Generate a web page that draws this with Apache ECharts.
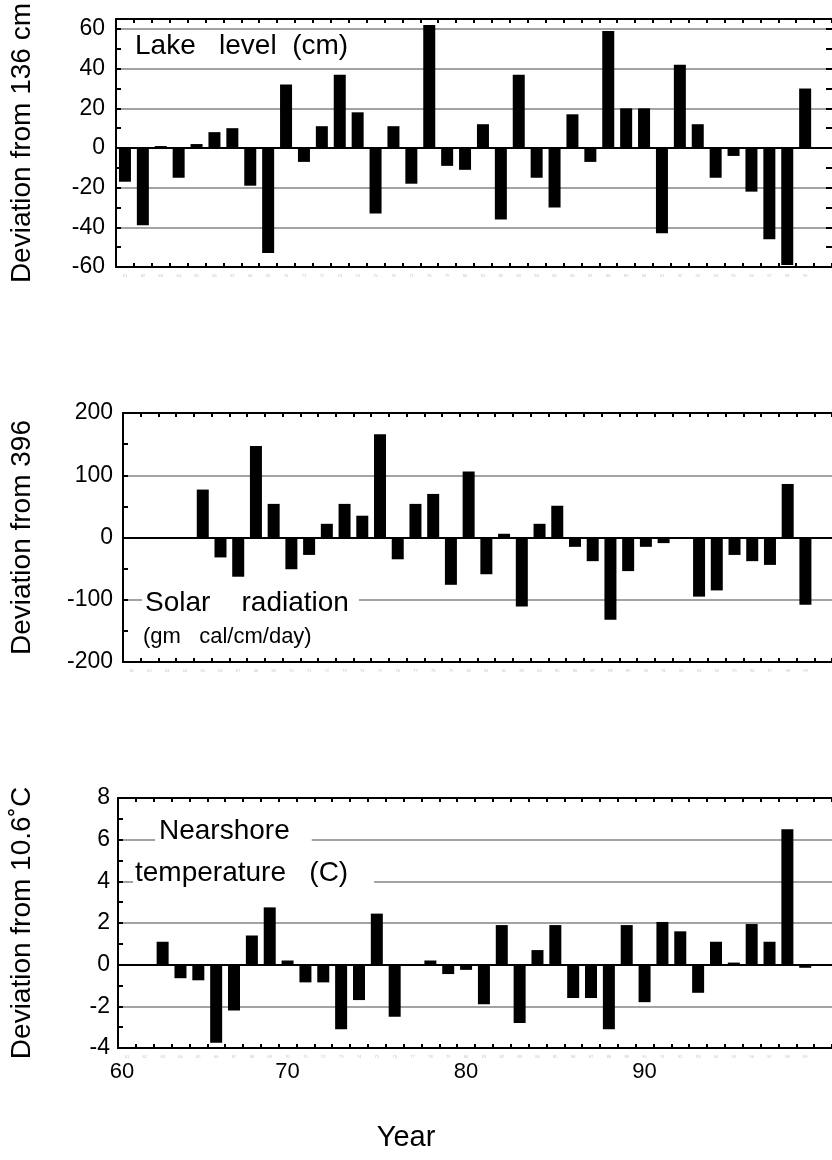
<!DOCTYPE html>
<html><head><meta charset="utf-8">
<script src="https://cdn.jsdelivr.net/npm/echarts@6/dist/echarts.min.js"></script>
<style>html,body{margin:0;padding:0;background:#fff}#c{width:832px;height:1160px}</style>
</head><body><div id="c"></div>
<script>
// Years (one slot per year)
const years = ['61','62','63','64','65','66','67','68','69','70',
               '71','72','73','74','75','76','77','78','79','80',
               '81','82','83','84','85','86','87','88','89','90',
               '91','92','93','94','95','96','97','98','99'];
// Lake level deviation from 136 cm
const lakeLevel = [-17,-39,1,-15,2,8,10,-19,-53,32,
                   -7,11,37,18,-33,11,-18,62,-9,-11,
                   12,-36,37,-15,-30,17,-7,59,20,20,
                   -43,42,12,-15,-4,-22,-46,-59,30];
// Solar radiation deviation from 396 (gm cal/cm/day)
const solarRadiation = [null,null,null,null,77,-32,-63,147,54,-51,
                        -28,22,54,35,166,-35,54,70,-76,106,
                        -59,6,-111,22,51,-15,-38,-132,-54,-15,
                        -9,null,-95,-85,-28,-38,-44,86,-108];
// Nearshore temperature deviation from 10.6 C
const nearshoreTemp = [null,null,1.1,-0.65,-0.75,-3.75,-2.2,1.4,2.75,0.2,
                       -0.85,-0.85,-3.1,-1.7,2.45,-2.5,null,0.2,-0.45,-0.25,
                       -1.9,1.9,-2.8,0.7,1.9,-1.6,-1.6,-3.1,1.9,-1.8,
                       2.05,1.6,-1.35,1.1,0.1,1.95,1.1,6.5,-0.15];
// Tick labels
const decadeLabels = ['70','80','90'];
const axisStartLabel = '60';
const lakeTicks = [-60,-40,-20,0,20,40,60];
const solarTicks = [-200,-100,0,100,200];
const tempTicks = [-4,-2,0,2,4,6,8];

const FONT = '"Liberation Sans", Arial, Helvetica, sans-serif';
const cats = years.concat(['']);

const panels = [
  {grid:{left:115,top:19,width:720,height:248}, min:-60,max:65,major:20,minor:10, ticks:lakeTicks,
   data:lakeLevel, title:'Deviation from 136 cm', nameGap:80, labelMargin:11, rightTicks:true},
  {grid:{left:120,top:413,width:720,height:249}, min:-200,max:200,major:100,minor:50, ticks:solarTicks,
   data:solarRadiation, title:'Deviation from 396', nameGap:87, labelMargin:10, rightTicks:false},
  {grid:{left:117,top:798,width:720,height:250}, min:-4,max:8,major:2,minor:1, ticks:tempTicks,
   data:nearshoreTemp, title:'Deviation from 10.6˚C', nameGap:82, labelMargin:8, rightTicks:false}
];

const grid = [], xAxis = [], yAxis = [], series = [];
panels.forEach((p, i) => {
  grid.push(Object.assign({containLabel:false}, p.grid));
  const xb = xAxis.length;
  xAxis.push({type:'category', gridIndex:i, position:'bottom', data:cats, boundaryGap:true,
    axisLine:{show:true, onZero:false, lineStyle:{color:'#000', width:2}},
    axisTick:{show:true, inside:true, length:4, interval:0, lineStyle:{color:'#000', width:2}},
    axisLabel:{show:true, interval:0, fontSize:4, color:'#c4c4c4', margin:7, fontFamily:FONT},
    splitLine:{show:false}});
  xAxis.push({type:'category', gridIndex:i, position:'top', data:cats, boundaryGap:true,
    axisLine:{show:true, onZero:false, lineStyle:{color:'#000', width:2}},
    axisTick:{show:true, inside:true, length:4, interval:0, lineStyle:{color:'#000', width:2}},
    axisLabel:{show:false}, splitLine:{show:false}});
  if (i === 2) {
    xAxis.push({type:'category', gridIndex:i, position:'bottom', data:cats, boundaryGap:true,
      axisLine:{show:false}, axisTick:{show:false}, splitLine:{show:false},
      axisLabel:{show:true, margin:13, fontSize:22, color:'#000', fontFamily:FONT,
        interval:(idx, v) => idx === 0 || decadeLabels.indexOf(v) >= 0,
        formatter:(v, idx) => idx === 0 ? '{s|' + axisStartLabel + '}' : v,
        rich:{s:{fontSize:22, color:'#000', fontFamily:FONT, padding:[0,10,0,0]}}}});
  }
  const ya = yAxis.length;
  yAxis.push({type:'value', gridIndex:i, position:'left', min:p.min, max:p.max, interval:p.major,
    axisLine:{show:true, lineStyle:{color:'#000', width:2}},
    axisTick:{show:false},
    axisLabel:{show:true, margin:p.labelMargin, fontSize:23, color:'#000', fontFamily:FONT,
      formatter:(v) => p.ticks.indexOf(v) >= 0 ? String(v) : ''},
    splitLine:{show:true, lineStyle:{color:'#858585', width:1.6}},
    name:p.title, nameLocation:'middle', nameGap:p.nameGap,
    nameTextStyle:{fontSize:28, color:'#000', fontFamily:FONT}});
  yAxis.push({type:'value', gridIndex:i, position:'left', min:p.min, max:p.max, interval:p.minor,
    axisLine:{show:false}, axisLabel:{show:false}, splitLine:{show:false},
    axisTick:{show:true, inside:true, length:5, lineStyle:{color:'#000', width:2}}});
  if (p.rightTicks) {
    yAxis.push({type:'value', gridIndex:i, position:'right', min:p.min, max:p.max, interval:p.minor,
      axisLine:{show:false}, axisLabel:{show:false}, splitLine:{show:false},
      axisTick:{show:true, inside:true, length:6, lineStyle:{color:'#000', width:2}}});
  }
  series.push({type:'bar', xAxisIndex:xb, yAxisIndex:ya, data:p.data, barWidth:12,
    itemStyle:{color:'#000'}, emphasis:{disabled:true}, silent:true,
    markLine:{silent:true, symbol:'none', label:{show:false}, emphasis:{disabled:true},
      lineStyle:{color:'#000', width:2, type:'solid'}, data:[{yAxis:0}]}});
});

const graphic = [
  {type:'text', x:135, y:46, z:100, style:{text:'Lake   level  (cm)', font:'28px ' + FONT, fill:'#000', verticalAlign:'middle'}},
  {type:'text', x:142, y:603, z:100, style:{text:'Solar    radiation', font:'28px ' + FONT, fill:'#000', verticalAlign:'middle',
    backgroundColor:'#fff', padding:[0,10,0,3]}},
  {type:'text', x:143, y:637, z:100, style:{text:'(gm   cal/cm/day)', font:'22px ' + FONT, fill:'#000', verticalAlign:'middle'}},
  {type:'text', x:155, y:831, z:100, style:{text:'Nearshore', font:'28px ' + FONT, fill:'#000', verticalAlign:'middle',
    backgroundColor:'#fff', padding:[0,22,0,4]}},
  {type:'text', x:133, y:873, z:100, style:{text:'temperature   (C)', font:'28px ' + FONT, fill:'#000', verticalAlign:'middle',
    backgroundColor:'#fff', padding:[0,26,0,2]}},
  {type:'text', x:406, y:1138, z:100, style:{text:'Year', font:'29px ' + FONT, fill:'#000', align:'center', verticalAlign:'middle'}}
];

const chart = echarts.init(document.getElementById('c'), null, {renderer:'canvas'});
chart.setOption({backgroundColor:'#fff', animation:false, grid, xAxis, yAxis, series, graphic});
</script></body></html>
